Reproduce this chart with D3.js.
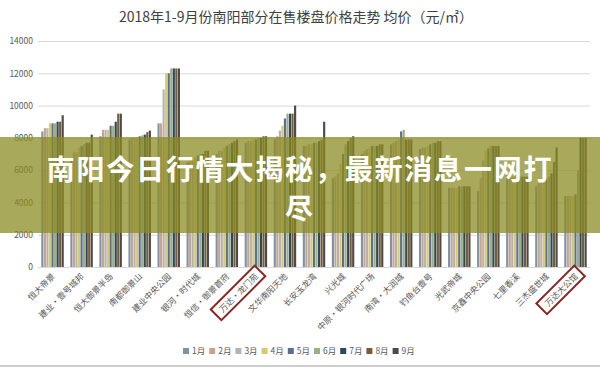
<!DOCTYPE html>
<html>
<head>
<meta charset="utf-8">
<script src="https://cdn.jsdelivr.net/npm/d3@7"></script>
<style>
body{margin:0;background:#fff;}
svg{display:block;font-family:"Noto Sans CJK SC","Noto Sans",sans-serif;}
</style>
</head>
<body>
<svg id="chart" width="600" height="370"></svg>
<script>
var title = "2018年1-9月份南阳部分在售楼盘价格走势 均价（元/㎡）";
var cats = ["恒大帝景","建业·壹号城邦","恒大御景半岛","南都御景山","建业中央公园","银河·时代城","恒信·御景首府","万达·龙门苑","文华南阳天地","长安玉龙湾","兴光城","中原·银河时代广场","南湾·大润城","钓鱼台壹号","光武帝城","京鑫中央公园","七里香溪","三杰盛世城","万达大公馆"];
var months = ["1月","2月","3月","4月","5月","6月","7月","8月","9月"];
var m1 = [8400,6600,8100,7900,8900,6500,7000,7700,7900,7500,5500,7000,7600,7300,4900,4700,5700,5000,4400];
var m2 = [8600,7100,8500,8000,8900,6600,7200,7800,8100,7500,5600,7200,7700,7400,4900,5500,5700,5200,4400];
var m3 = [8600,7100,8500,8000,11000,6600,7200,7800,8450,7600,5800,7300,7800,7400,4900,6600,5600,5500,4400];
var m4 = [8900,7400,8500,8050,12000,6800,7400,7900,8750,7600,6400,7400,7900,7500,4900,7200,5600,5500,4400];
var m5 = [8900,7500,8750,8100,12000,6900,7500,7900,9200,7700,7000,7500,8400,7600,5000,7350,5600,5500,4500];
var m6 = [8900,7600,8750,8150,12300,7000,7600,8000,9500,7700,7600,7500,8500,7700,5000,7500,5600,5600,6000];
var m7 = [9000,7700,9000,8200,12300,7000,7700,8000,9500,7800,7800,7500,7900,7700,5000,7500,5600,5800,8000];
var m8 = [9000,7700,9500,8350,12300,7200,7800,8100,9500,7900,8000,7600,7900,7800,5000,7500,5600,6500,8000];
var m9 = [9400,8200,9500,8450,12300,7200,7900,8100,10000,9000,8100,7600,7900,7800,5000,7500,5600,7400,8000];
var yTicks = [0,2000,4000,6000,8000,10000,12000,14000];
var marked = ["万达·龙门苑","万达大公馆"];
var banner = ["南阳今日行情大揭秘，最新消息一网打","尽"];

var series = [m1,m2,m3,m4,m5,m6,m7,m8,m9];
var colors = ["#7f93a6","#c9a38b","#b3b3b3","#d6cb6c","#5d6d8e","#9bae86","#2f4855","#7a5a37","#4b4b4b"];

var svg = d3.select("#chart");

var x0 = d3.scaleBand().domain(cats).range([38,590]).paddingInner(0.2).paddingOuter(0.1);
var x1 = d3.scaleBand().domain(months).range([0,x0.bandwidth()]).padding(0.15);
var y = d3.scaleLinear().domain([0,14000]).range([267,41]);

svg.append("text").attr("x",296).attr("y",22).attr("text-anchor","middle")
	.attr("font-size",14).attr("fill","#404040").text(title);

// grid + y labels
var yAxis = svg.append("g").attr("transform","translate(38,0)")
	.call(d3.axisLeft(y).tickValues(yTicks).tickSize(-552).tickPadding(5).tickFormat(d3.format("d")));
yAxis.select(".domain").remove();
yAxis.selectAll("line").attr("stroke","#d9d9d9");
yAxis.selectAll("text").attr("fill","#595959").attr("font-size",8.5).attr("font-family","Noto Sans CJK SC");

// bars
var groups = svg.append("g").selectAll("g").data(cats).join("g")
	.attr("transform",function(d){return "translate("+x0(d)+",0)";});
groups.selectAll("rect").data(function(d,i){
		return months.map(function(m,j){return {m:m,v:series[j][i],c:colors[j]};});
	}).join("rect")
	.attr("x",function(d){return x1(d.m);})
	.attr("width",x1.bandwidth())
	.attr("y",function(d){return y(d.v);})
	.attr("height",function(d){return y(0)-y(d.v);})
	.attr("fill",function(d){return d.c;});

// x labels
var xl = svg.append("g").selectAll("g").data(cats).join("g")
	.attr("transform",function(d){return "translate("+(x0(d)+x0.bandwidth()/2+3)+",277) rotate(-45)";});
xl.append("text").attr("text-anchor","end").attr("font-size",8.5).attr("fill","#595959")
	.text(function(d){return d;});
xl.filter(function(d){return marked.indexOf(d)>=0;}).each(function(){
	var g = d3.select(this);
	var w = g.select("text").node().getComputedTextLength();
	g.append("rect").attr("x",-w-6).attr("y",-11).attr("width",w+11).attr("height",15)
		.attr("fill","none").attr("stroke","#8b2424").attr("stroke-width",2);
});

// legend
var lg = svg.append("g").selectAll("g").data(months).join("g")
	.attr("transform",function(d,i){return "translate("+(183+i*26.2)+",354)";});
lg.append("rect").attr("x",0).attr("y",-6).attr("width",6).attr("height",6)
	.attr("fill",function(d,i){return colors[i];});
lg.append("text").attr("x",9).attr("y",0).attr("font-size",8.5).attr("fill","#595959")
	.text(function(d){return d;});

svg.append("line").attr("x1",0).attr("x2",600).attr("y1",366).attr("y2",366)
	.attr("stroke","#cfcfcf").attr("stroke-width",2);

// overlay banner
svg.append("rect").attr("x",0).attr("y",137).attr("width",600).attr("height",96)
	.attr("fill","rgb(139,139,35)").attr("fill-opacity",0.74);
svg.selectAll(".bt").data(banner).join("text").attr("class","bt")
	.attr("x",300).attr("y",function(d,i){return 180+i*39;})
	.attr("text-anchor","middle").attr("font-size",28).attr("font-weight","bold")
	.attr("letter-spacing",1.8).attr("fill","#fff")
	.text(function(d){return d;});
</script>
</body>
</html>
